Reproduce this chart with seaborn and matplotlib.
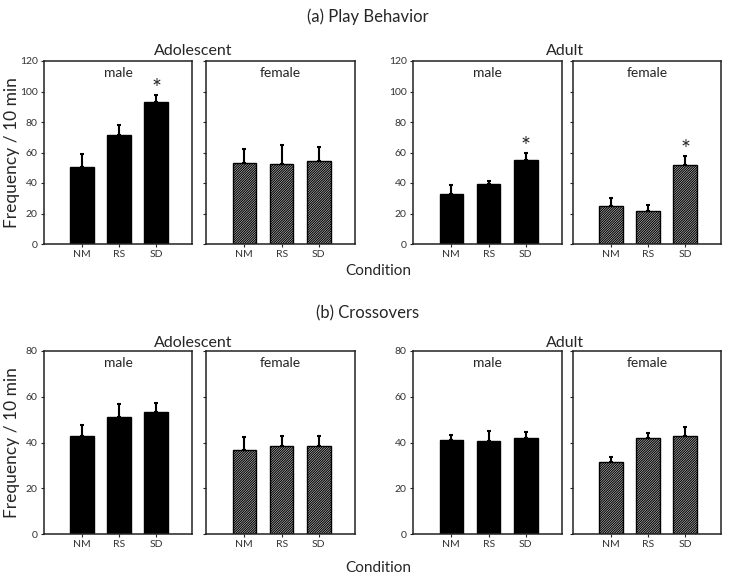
import numpy as np
import pandas as pd
import matplotlib
matplotlib.use("Agg")
import matplotlib.pyplot as plt
import seaborn as sns

# ---- data ----
conditions = ["NM", "RS", "SD"]

play_adol_male = [50.5, 71.3, 93.1]
play_adol_male_sem = [8.7, 6.5, 4.8]
play_adol_female = [53.1, 52.2, 54.6]
play_adol_female_sem = [9.4, 12.9, 9.0]
play_adult_male = [32.8, 39.1, 55.1]
play_adult_male_sem = [6.1, 2.4, 4.8]
play_adult_female = [24.9, 21.4, 51.8]
play_adult_female_sem = [5.5, 4.4, 6.1]

cross_adol_male = [42.8, 51.1, 53.5]
cross_adol_male_sem = [4.7, 5.6, 3.6]
cross_adol_female = [36.9, 38.3, 38.6]
cross_adol_female_sem = [5.4, 4.7, 4.4]
cross_adult_male = [41.2, 40.7, 42.1]
cross_adult_male_sem = [2.1, 4.5, 2.6]
cross_adult_female = [31.4, 42.0, 42.8]
cross_adult_female_sem = [2.4, 2.1, 3.8]

# significant conditions (star) per panel
play_stars = [["SD"], [], ["SD"], ["SD"]]
cross_stars = [[], [], [], []]

W, H = 729, 579
sns.set_style("ticks")
plt.rcParams['font.family'] = ['Lato', 'DejaVu Sans']
plt.rcParams['hatch.linewidth'] = 0.8

fig = plt.figure(figsize=(W / 100, H / 100), dpi=100)


def px_axes(x0, x1, y0, y1):
    # pixel box -> figure fraction
    return fig.add_axes([x0 / W, 1 - y1 / H, (x1 - x0) / W, (y1 - y0) / H])


def draw_panel(ax, means, sems, sex, ymax, step, stars, show_labels):
    df = pd.DataFrame({"condition": conditions, "value": means})
    sns.barplot(data=df, x="condition", y="value", color="black",
                errorbar=None, width=0.63, ax=ax, saturation=1)
    for p in ax.patches:
        p.set_edgecolor("black")
        p.set_linewidth(1.0)
        if sex == "female":
            p.set_facecolor("#d8d8d8")
            p.set_hatch("/" * 14)
    ax.errorbar(np.arange(3), means, yerr=[np.zeros(3), sems], fmt="none",
                ecolor="black", elinewidth=1.5, capsize=1.5, capthick=1.5)
    for c in stars:
        i = conditions.index(c)
        ax.annotate("*", xy=(i, means[i] + sems[i]), xytext=(0, -3),
                    textcoords="offset points", ha="center", va="bottom",
                    fontsize=17)
    ax.set_xlim(-1.03, 2.97)
    ax.set_ylim(0, ymax)
    ax.set_yticks(np.arange(0, ymax + 1, step))
    ax.set_xlabel("")
    ax.set_ylabel("")
    ax.text(0.5, 0.965, sex, transform=ax.transAxes, ha="center", va="top",
            fontsize=10)
    for s in ax.spines.values():
        s.set_visible(True)
        s.set_linewidth(1.1)
        s.set_color("#222222")
    ax.tick_params(axis="both", length=2.5, width=0.8, labelsize=7.5,
                   labelcolor="#333333", pad=2)
    if not show_labels:
        ax.set_yticklabels([])


xboxes = [(44, 192), (206, 355), (413, 562), (573, 721)]

rows = [
    dict(y=(61, 244), ymax=120, step=20, title="(a) Play Behavior", ty=17,
         ly=51, cy=271,
         data=[(play_adol_male, play_adol_male_sem, "male"),
               (play_adol_female, play_adol_female_sem, "female"),
               (play_adult_male, play_adult_male_sem, "male"),
               (play_adult_female, play_adult_female_sem, "female")],
         stars=play_stars),
    dict(y=(351, 534), ymax=80, step=20, title="(b) Crossovers", ty=313,
         ly=343, cy=568,
         data=[(cross_adol_male, cross_adol_male_sem, "male"),
               (cross_adol_female, cross_adol_female_sem, "female"),
               (cross_adult_male, cross_adult_male_sem, "male"),
               (cross_adult_female, cross_adult_female_sem, "female")],
         stars=cross_stars),
]

for row in rows:
    y0, y1 = row["y"]
    for k, ((m, s, sex), (x0, x1)) in enumerate(zip(row["data"], xboxes)):
        ax = px_axes(x0, x1, y0, y1)
        draw_panel(ax, m, s, sex, row["ymax"], row["step"], row["stars"][k],
                   show_labels=(sex == "male"))
    fig.text(368 / W, 1 - row["ty"] / H, row["title"], ha="center",
             va="center", fontsize=12)
    fig.text(193 / W, 1 - row["ly"] / H, "Adolescent", ha="center",
             va="center", fontsize=11.5)
    fig.text(565 / W, 1 - row["ly"] / H, "Adult", ha="center",
             va="center", fontsize=11.5)
    fig.text(378 / W, 1 - row["cy"] / H, "Condition", ha="center",
             va="center", fontsize=11)
    fig.text(12 / W, 1 - ((y0 + y1) / 2) / H, "Frequency / 10 min",
             rotation=90, ha="center", va="center", fontsize=12.5)

fig.savefig("out.png", dpi=100)
